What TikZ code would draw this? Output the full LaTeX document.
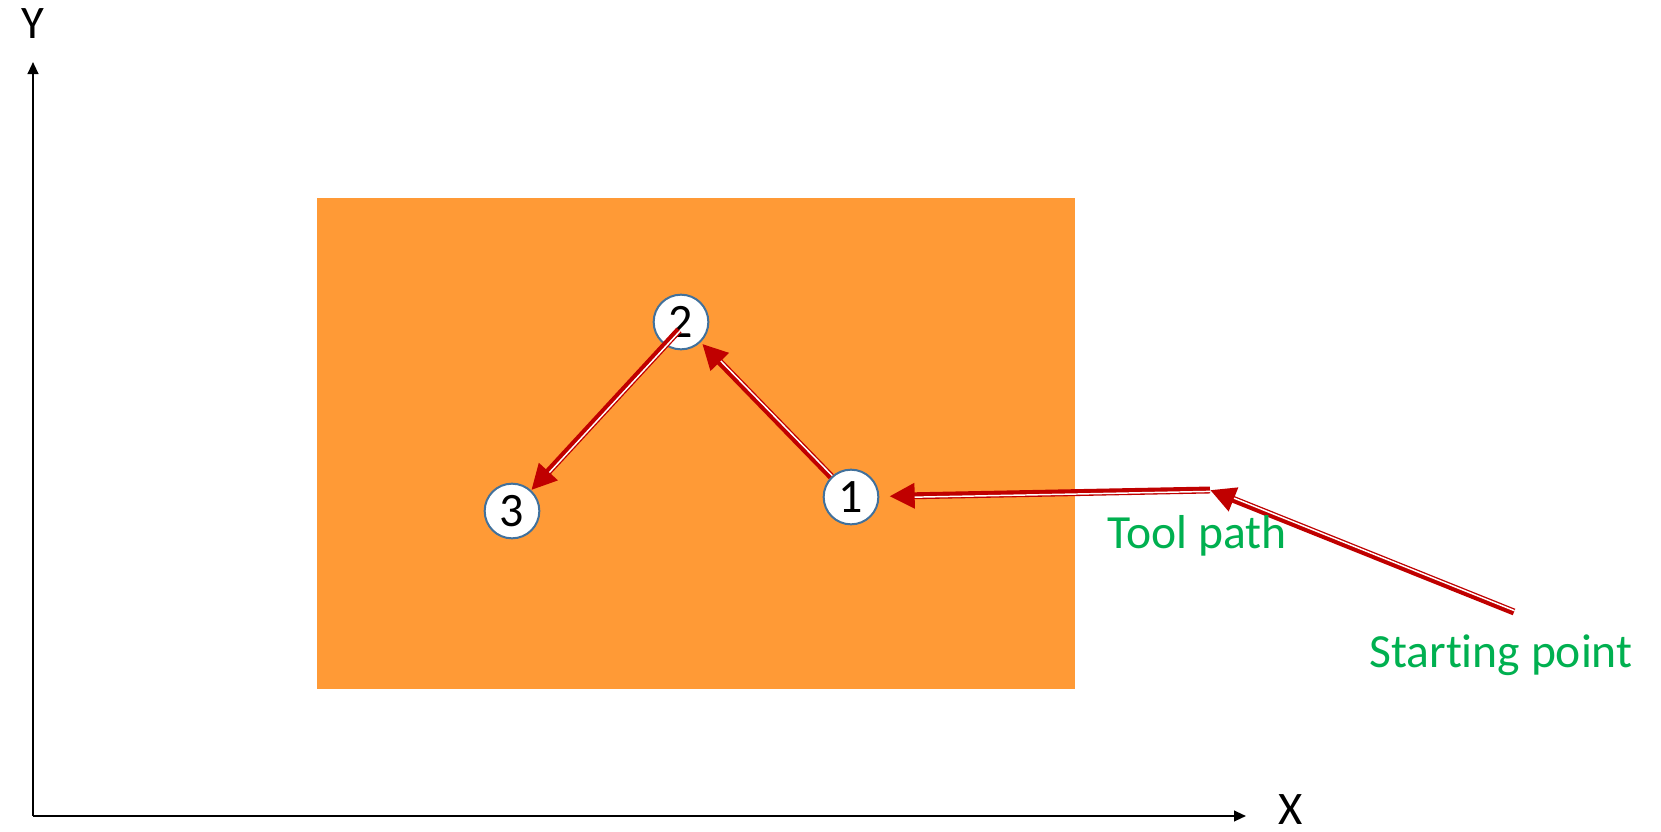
\documentclass[tikz,border=0pt]{standalone}
\usepackage{fontspec}
\setmainfont{Carlito}[Ligatures=NoCommon]
\usetikzlibrary{arrows.meta}
\definecolor{tpred}{HTML}{C00000}
\definecolor{plate}{HTML}{FF9A36}
\definecolor{lblgreen}{HTML}{00B050}
\definecolor{ringblue}{HTML}{41719C}
\begin{document}
\begin{tikzpicture}[x=0.75pt,y=-0.75pt,
  axis/.style={line width=1.5pt, -{Triangle[length=9pt,width=8pt]}},
  ptnode/.style={circle, draw=ringblue, line width=1.5pt, fill=white,
    minimum size=41pt, inner sep=0pt, font=\fontsize{36pt}{40pt}\selectfont},
  tpath/.style 2 args={draw=tpred, line width=5.2pt,
    -{Triangle[length=19pt,width=18pt]},
    postaction={draw=white, line width=1.1pt, arrows=-,
      transform canvas={shift={#1}}, shorten >=#2}},
  lbl/.style={text=lblgreen, font=\fontsize{35.7pt}{40pt}\selectfont,
    anchor=base, inner sep=0pt},
  axlbl/.style={font=\fontsize{35pt}{40pt}\selectfont, anchor=base, inner sep=0pt}]
\useasboundingbox[fill=white] (0,0) rectangle (1661,832);
% workpiece
\fill[plate] (317,198) rectangle (1075,689);
% axes
\coordinate (O) at (33,816);
\coordinate (ytop) at (33,62);
\coordinate (xend) at (1246,816);
\draw[axis] (O) -- (ytop);
\draw[axis] (O) -- (xend);
\node[axlbl] (ylab) at (33,38) {Y};
\node[axlbl] (xlab) at (1291,824) {X};
% points
\node[ptnode] (c2) at (681,322) {2};
\node[ptnode] (c1) at (851,497) {1};
\node[ptnode] (c3) at (512,511) {3};
\coordinate (s) at (1514,612);
\coordinate (b) at (1210,490);
\coordinate (f2) at (679,330);
% tool path
\draw[tpath={(0.52,-1.3)}{19pt}] (s) -- (b);
\draw[tpath={(0,1.4)}{26.5pt}, shorten >=7.5pt] (b) -- (c1);
\draw[tpath={(1.0,-0.98)}{20.5pt}, shorten >=1.5pt] (c1) -- (c2);
\draw[tpath={(1.03,0.95)}{19pt}] (f2) -- (c3);
% labels
\node[lbl] (toolpath) at (1197,548) {Tool path};
\node[lbl] (startpt) at (1501,667) {Starting point};
\end{tikzpicture}
\end{document}
